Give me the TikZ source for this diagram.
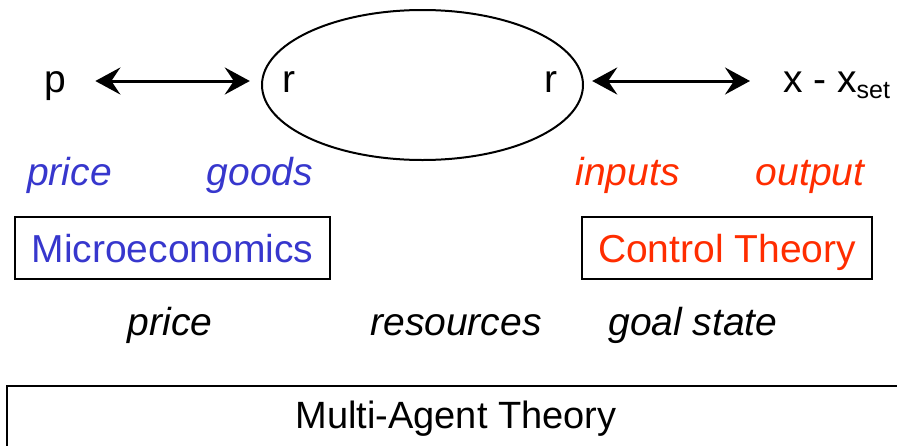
\documentclass[tikz,border=0pt]{standalone}
\usepackage{fontspec}
\setmainfont{Liberation Sans}
\usetikzlibrary{arrows.meta,shapes.geometric}
\definecolor{econblue}{RGB}{55,55,205}
\definecolor{ctrlred}{RGB}{255,45,0}
\begin{document}
\begin{tikzpicture}[x=1pt,y=-1pt,
  every node/.style={inner sep=0pt,outer sep=0pt,font=\fontsize{39}{42}\selectfont},
  toplbl/.style={anchor=base,text height=22pt,text depth=0pt},
  bluelbl/.style={anchor=base,text=econblue,font=\fontsize{39}{42}\selectfont\itshape},
  redlbl/.style={anchor=base,text=ctrlred,font=\fontsize{39}{42}\selectfont\itshape},
  blklbl/.style={anchor=base,font=\fontsize{39}{42}\selectfont\itshape},
  fieldbox/.style={draw,line width=2pt,minimum height=62pt},
  dblarrow/.style={line width=3pt,{Stealth[length=25pt,width=27pt,inset=9pt]}-{Stealth[length=25pt,width=27pt,inset=9pt]}}
]
\useasboundingbox (0,0) rectangle (897,445);
% top row
\node[toplbl] (p) at (55,92) {p};
\node[toplbl] (rL) at (289,92) {r};
\node[toplbl] (rR) at (551,92) {r};
\node[toplbl,anchor=base west] (x) at (783,92) {x - x\raisebox{-6pt}{\fontsize{25}{25}\selectfont set}};
\node[ellipse,draw,line width=2pt,minimum width=321pt,minimum height=150pt] (ell) at (422.5,85) {};
\draw[dblarrow,shorten <=29.5pt,shorten >=32.7pt] (p.east) -- (rL.west);
\draw[dblarrow,shorten <=34.7pt,shorten >=33pt] (rR.east) -- (x.west);
% second row
\node[bluelbl] (price1) at (69.5,185) {price};
\node[bluelbl] (goods) at (260,185) {goods};
\node[redlbl] (inputs) at (627.5,185) {inputs};
\node[redlbl] (output) at (810,185) {output};
% boxes
\node[fieldbox,minimum width=315pt,text=econblue,text height=28pt,text depth=0pt] (micro) at (172.5,248) {Microeconomics};
\node[fieldbox,minimum width=290pt,text=ctrlred,text height=28pt,text depth=0pt] (ctrl) at (727,248) {Control Theory};
% third row
\node[blklbl] (price2) at (170,335.5) {price};
\node[blklbl] (res) at (456,335.5) {resources};
\node[blklbl] (goal) at (693,335.5) {goal state};
% bottom
\node[draw,line width=2pt,minimum width=898pt,minimum height=70pt,text height=28pt,text depth=14pt,font=\fontsize{38}{42}\selectfont] (mat) at (456,421) {Multi-Agent Theory};
\end{tikzpicture}
\end{document}
